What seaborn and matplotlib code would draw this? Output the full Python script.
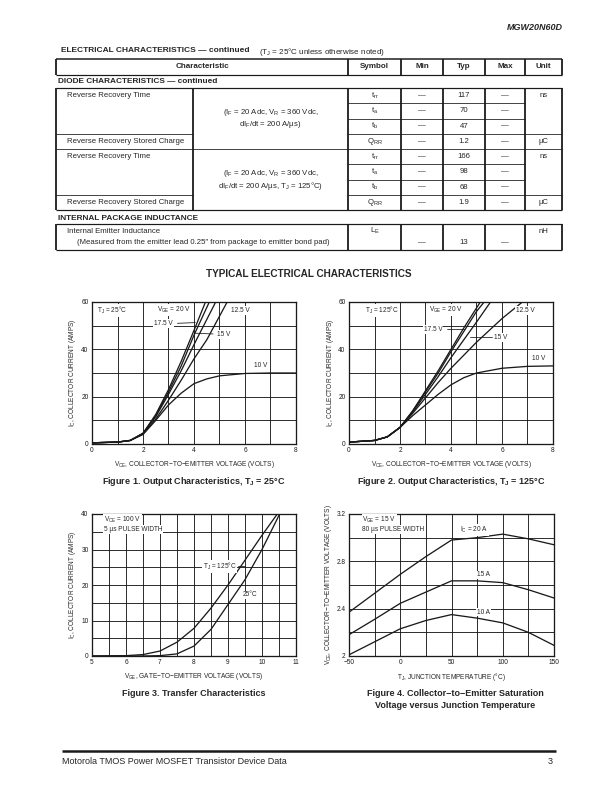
import pandas as pd
import matplotlib
matplotlib.use("Agg")
import matplotlib.pyplot as plt
from matplotlib.lines import Line2D
import seaborn as sns

# ---------------- table data ----------------
diode_char = ["Reverse Recovery Time", "", "", "Reverse Recovery Stored Charge",
              "Reverse Recovery Time", "", "", "Reverse Recovery Stored Charge"]
diode_symbol = [r"t$_{\rm rr}$", r"t$_{\rm a}$", r"t$_{\rm b}$", r"Q$_{\rm RR}$",
                r"t$_{\rm rr}$", r"t$_{\rm a}$", r"t$_{\rm b}$", r"Q$_{\rm RR}$"]
diode_min = ["—"] * 8
diode_typ = ["117", "70", "47", "1.2", "166", "98", "68", "1.9"]
diode_max = ["—"] * 8
diode_unit = ["ns", "", "", "µC", "ns", "", "", "µC"]
diode_cond1 = [r"(I$_{\rm F}$ = 20 Adc, V$_{\rm R}$ = 360 Vdc,", r"dI$_{\rm F}$/dt = 200 A/µs)"]
diode_cond2 = [r"(I$_{\rm F}$ = 20 Adc, V$_{\rm R}$ = 360 Vdc,", r"dI$_{\rm F}$/dt = 200 A/µs, T$_{\rm J}$ = 125°C)"]
header_cols = ["Characteristic", "Symbol", "Min", "Typ", "Max", "Unit"]

# ---------------- Figure 1: output characteristics, TJ = 25 C ----------------
f1_vce_20 = [0, 1, 1.5, 2, 2.5, 3, 3.5, 4, 4.45]
f1_ic_20 = [0.5, 0.8, 1.5, 4.5, 12.5, 23, 35, 48, 60]
f1_vce_175 = [0, 1, 1.5, 2, 2.5, 3, 3.5, 4, 4.6]
f1_ic_175 = [0.5, 0.8, 1.5, 4.5, 12, 22, 33, 46, 60]
f1_vce_15 = [0, 1, 1.5, 2, 2.5, 3, 3.5, 4, 4.85]
f1_ic_15 = [0.5, 0.8, 1.5, 4.5, 11.5, 21, 31, 42, 60]
f1_vce_125 = [0, 1, 1.5, 2, 2.5, 3, 3.5, 4, 4.5, 5.3]
f1_ic_125 = [0.5, 0.8, 1.5, 4.3, 10.5, 18.5, 27, 36, 44, 60]
f1_vce_10 = [0, 1, 1.5, 2, 2.5, 3, 3.5, 4, 4.5, 5, 6, 7, 8]
f1_ic_10 = [0.5, 0.8, 1.5, 4, 10, 16.5, 21.5, 25.5, 27.5, 28.8, 29.8, 30, 30]

# ---------------- Figure 2: output characteristics, TJ = 125 C ----------------
f2_vce_20 = [0, 1, 1.5, 2, 2.5, 3, 3.5, 4, 4.5, 5.15]
f2_ic_20 = [0.8, 1.5, 3, 7, 14, 22.5, 31, 40, 49, 60]
f2_vce_175 = [0, 1, 1.5, 2, 2.5, 3, 3.5, 4, 4.5, 5, 5.3]
f2_ic_175 = [0.8, 1.5, 3, 7, 14, 22, 30, 39, 47.5, 56, 60]
f2_vce_15 = [0, 1, 1.5, 2, 2.5, 3, 3.5, 4, 4.5, 5, 5.55]
f2_ic_15 = [0.8, 1.5, 3, 7, 13.5, 21, 28.5, 36.5, 44, 51.5, 60]
f2_vce_125 = [0, 1, 1.5, 2, 2.5, 3, 3.5, 4, 5, 6, 6.8]
f2_ic_125 = [0.8, 1.5, 3, 7, 13, 19.5, 26, 32, 43, 53, 60]
f2_vce_10 = [0, 1, 1.5, 2, 2.5, 3, 3.5, 4, 4.5, 5, 6, 7, 8]
f2_ic_10 = [0.8, 1.5, 3, 7, 12, 16.5, 21, 25, 28, 30, 32, 32.8, 33]

# ---------------- Figure 3: transfer characteristics ----------------
f3_vge_125 = [5, 6, 6.5, 7, 7.5, 8, 8.5, 9, 9.5, 10, 10.45]
f3_ic_125 = [0, 0.1, 0.4, 1.4, 3.9, 7.8, 13.5, 20, 27, 34, 40]
f3_vge_25 = [5, 6.5, 7, 7.5, 8, 8.5, 9, 9.5, 10, 10.52]
f3_ic_25 = [0, 0, 0.1, 0.6, 2.8, 7.5, 14.5, 21.5, 30, 40]

# ---------------- Figure 4: VCE(sat) vs junction temperature ----------------
f4_tj = [-50, -25, 0, 25, 50, 75, 100, 125, 150]
f4_vce_20 = [2.37, 2.53, 2.69, 2.84, 2.98, 3.0, 3.03, 2.99, 2.94]
f4_vce_15 = [2.18, 2.31, 2.445, 2.54, 2.635, 2.635, 2.62, 2.56, 2.49]
f4_vce_10 = [2.01, 2.12, 2.23, 2.3, 2.35, 2.32, 2.28, 2.2, 2.09]

sns.set_theme(style="white")
plt.rcParams["font.family"] = ["Liberation Sans", "DejaVu Sans"]
plt.rcParams["mathtext.fontset"] = "custom"
plt.rcParams["mathtext.rm"] = "Liberation Sans"
plt.rcParams["mathtext.it"] = "Liberation Sans:italic"
plt.rcParams["mathtext.bf"] = "Liberation Sans:bold"

W, H = 612, 792
fig = plt.figure(figsize=(W / 72, H / 72), dpi=72)

FS_TAB = 7.8   # table body text
FS_CH = 6.5    # chart text


def fx(x):
    return x / W


def fy(y):
    return 1 - y / H


def hline(x0, x1, y, lw=0.8):
    fig.add_artist(Line2D([fx(x0), fx(x1)], [fy(y), fy(y)], transform=fig.transFigure,
                          color="k", lw=lw, solid_capstyle="butt"))


def vline(x, y0, y1, lw=1.8):
    fig.add_artist(Line2D([fx(x), fx(x)], [fy(y0), fy(y1)], transform=fig.transFigure,
                          color="k", lw=lw, solid_capstyle="butt"))


def txt(x, y, s, size=FS_TAB, ha="left", **kw):
    fig.text(fx(x), fy(y), s, size=size, ha=ha, va="center", **kw)


# ---------------- page header ----------------
txt(563, 28, "MGW20N60D", size=9, ha="right", weight="bold", style="italic")
txt(61, 51, "ELECTRICAL CHARACTERISTICS — continued", size=8.4, weight="bold")
txt(259, 51.5, r"(T$_{\rm J}$ = 25°C unless otherwise noted)", size=8)

# ---------------- table ----------------
cols = [56, 193, 348, 401, 443, 485, 525, 562]
centers = [(cols[0] + cols[2]) / 2] + [(cols[i] + cols[i + 1]) / 2 for i in range(2, 7)]
hdr_top, hdr_bot = 59, 75
hline(cols[0], cols[-1], hdr_top, 1.5)
hline(cols[0], cols[-1], hdr_bot, 1.2)
for c in [cols[0]] + cols[2:]:
    vline(c, hdr_top, hdr_bot)
for cx, name in zip(centers, header_cols):
    txt(cx, 67, name, size=8, ha="center", weight="bold")

txt(58, 81.5, "DIODE CHARACTERISTICS — continued", size=8.2, weight="bold")

top = 88
rh = 15.25
nrows = len(diode_typ)
bot = top + rh * nrows
hline(cols[0], cols[-1], top, 1.2)
hline(cols[0], cols[-1], bot, 1.2)
hline(cols[0], cols[-1], top + rh * 4, 0.8)
for c in cols:
    vline(c, top, bot)
for k in (3, 7):
    y = top + rh * k
    hline(cols[0], cols[1], y)
    hline(cols[2], cols[-1], y)
for k in (1, 2, 5, 6):
    hline(cols[2], cols[6], top + rh * k)

for i in range(nrows):
    yc = top + rh * (i + 0.5)
    if diode_char[i]:
        txt(67, yc, diode_char[i])
    txt(centers[1], yc, diode_symbol[i], ha="center")
    txt(centers[2], yc, diode_min[i], ha="center")
    txt(centers[3], yc, diode_typ[i], ha="center")
    txt(centers[4], yc, diode_max[i], ha="center")
    if diode_unit[i]:
        txt(centers[5], yc, diode_unit[i], ha="center")

ccx = (cols[1] + cols[2]) / 2
for blk, cond in enumerate([diode_cond1, diode_cond2]):
    yc = top + rh * (4 * blk + 2)
    txt(ccx, yc - 6, cond[0], ha="center")
    txt(ccx, yc + 6, cond[1], ha="center")

txt(58, 218, "INTERNAL PACKAGE INDUCTANCE", size=8.2, weight="bold")
le_top, le_bot = 224, 250
hline(cols[0], cols[-1], le_top, 1.2)
hline(cols[0], cols[-1], le_bot, 1.2)
for c in [cols[0]] + cols[2:]:
    vline(c, le_top, le_bot)
txt(67, 231, "Internal Emitter Inductance")
txt(77, 242.5, "(Measured from the emitter lead 0.25″ from package to emitter bond pad)")
txt(centers[1], 231, r"L$_{\rm E}$", ha="center")
txt(centers[2], 242.5, "—", ha="center")
txt(centers[3], 242.5, "13", ha="center")
txt(centers[4], 242.5, "—", ha="center")
txt(centers[5], 231, "nH", ha="center")

txt(309, 274, "TYPICAL ELECTRICAL CHARACTERISTICS", size=10, ha="center", weight="bold")


# ---------------- charts ----------------
def make_ax(x0, x1, y0, y1):
    return fig.add_axes([fx(x0), fy(y1), (x1 - x0) / W, (y1 - y0) / H])


def long_df(curves, xname, yname, hname):
    parts = [pd.DataFrame({xname: xs, yname: ys, hname: lab}) for lab, xs, ys in curves]
    return pd.concat(parts, ignore_index=True)


def style_ax(ax, xlim, ylim, xmaj, xmin, ymaj, ymin, xlabs=None, ylabs=None):
    ax.set_xlim(*xlim)
    ax.set_ylim(*ylim)
    ax.set_xticks(xmaj)
    ax.set_xticks(xmin, minor=True)
    ax.set_yticks(ymaj)
    ax.set_yticks(ymin, minor=True)
    if xlabs is not None:
        ax.set_xticklabels(xlabs)
    if ylabs is not None:
        ax.set_yticklabels(ylabs)
    ax.grid(True, which="both", color="k", lw=0.9)
    ax.tick_params(which="both", length=0, labelsize=FS_CH, pad=3.5, colors="k")
    for s in ax.spines.values():
        s.set_color("k")
        s.set_linewidth(1.3)
    ax.set_xlabel("")
    ax.set_ylabel("")


def lbl(ax, x, y, s, ha="center", box=True):
    kw = dict(size=FS_CH, ha=ha, va="center", zorder=5)
    if box:
        kw["bbox"] = dict(facecolor="white", edgecolor="none", pad=0.8)
    ax.text(x, y, s, **kw)


def leader(ax, xs, ys):
    ax.plot(xs, ys, color="k", lw=0.8, zorder=6)


ax_pos = {1: (92, 296, 302, 444), 2: (349, 553, 302, 444),
          3: (92, 296, 514, 656), 4: (349, 554, 514, 656)}

# Figure 1
ax1 = make_ax(*ax_pos[1])
df1 = long_df([("20 V", f1_vce_20, f1_ic_20), ("17.5 V", f1_vce_175, f1_ic_175),
               ("15 V", f1_vce_15, f1_ic_15), ("12.5 V", f1_vce_125, f1_ic_125),
               ("10 V", f1_vce_10, f1_ic_10)], "vce", "ic", "vge")
sns.lineplot(data=df1, x="vce", y="ic", hue="vge", palette=["k"] * 5, legend=False,
             estimator=None, sort=False, lw=1.3, ax=ax1)
style_ax(ax1, (0, 8), (0, 60), [0, 2, 4, 6, 8], range(0, 9), [0, 20, 40, 60], range(0, 61, 10))
lbl(ax1, 0.8, 56.5, r"T$_{\rm J}$ = 25°C")
lbl(ax1, 3.2, 56.5, r"V$_{\rm GE}$ = 20 V")
lbl(ax1, 2.8, 50.8, "17.5 V")
leader(ax1, [3.35, 4.05], [51.0, 51.3])
lbl(ax1, 5.15, 46.3, "15 V")
leader(ax1, [4.75, 4.05], [46.5, 46.8])
lbl(ax1, 5.8, 56.5, "12.5 V")
lbl(ax1, 6.6, 33, "10 V", box=False)
fig.text(fx(72), fy(373), r"I$_{\rm C}$, COLLECTOR CURRENT (AMPS)", size=FS_CH, rotation=90,
         ha="center", va="center")
txt(194, 464, r"V$_{\rm CE}$, COLLECTOR−TO−EMITTER VOLTAGE (VOLTS)", size=FS_CH, ha="center")
txt(194, 482, r"Figure 1. Output Characteristics, T$_{\bf J}$ = 25°C", size=9, ha="center",
    weight="bold")

# Figure 2
ax2 = make_ax(*ax_pos[2])
df2 = long_df([("20 V", f2_vce_20, f2_ic_20), ("17.5 V", f2_vce_175, f2_ic_175),
               ("15 V", f2_vce_15, f2_ic_15), ("12.5 V", f2_vce_125, f2_ic_125),
               ("10 V", f2_vce_10, f2_ic_10)], "vce", "ic", "vge")
sns.lineplot(data=df2, x="vce", y="ic", hue="vge", palette=["k"] * 5, legend=False,
             estimator=None, sort=False, lw=1.3, ax=ax2)
style_ax(ax2, (0, 8), (0, 60), [0, 2, 4, 6, 8], range(0, 9), [0, 20, 40, 60], range(0, 61, 10))
lbl(ax2, 1.3, 56.5, r"T$_{\rm J}$ = 125°C")
lbl(ax2, 3.8, 56.5, r"V$_{\rm GE}$ = 20 V")
lbl(ax2, 3.3, 48.4, "17.5 V")
leader(ax2, [3.85, 4.5], [48.4, 48.4])
lbl(ax2, 5.95, 45.0, "15 V")
leader(ax2, [5.6, 4.75], [45.2, 45.2])
lbl(ax2, 6.9, 56.5, "12.5 V")
lbl(ax2, 7.45, 36.2, "10 V")
fig.text(fx(330), fy(373), r"I$_{\rm C}$, COLLECTOR CURRENT (AMPS)", size=FS_CH, rotation=90,
         ha="center", va="center")
txt(451, 464, r"V$_{\rm CE}$, COLLECTOR−TO−EMITTER VOLTAGE (VOLTS)", size=FS_CH, ha="center")
txt(451, 482, r"Figure 2. Output Characteristics, T$_{\bf J}$ = 125°C", size=9, ha="center",
    weight="bold")

# Figure 3
ax3 = make_ax(*ax_pos[3])
df3 = long_df([("125", f3_vge_125, f3_ic_125), ("25", f3_vge_25, f3_ic_25)], "vge", "ic", "tj")
sns.lineplot(data=df3, x="vge", y="ic", hue="tj", palette=["k"] * 2, legend=False,
             estimator=None, sort=False, lw=1.3, ax=ax3)
style_ax(ax3, (5, 11), (0, 40), range(5, 12), [5 + 0.5 * i for i in range(13)],
         range(0, 41, 10), range(0, 41, 5))
lbl(ax3, 5.35, 38.3, r"V$_{\rm CE}$ = 100 V", ha="left")
lbl(ax3, 5.35, 35.6, "5 µs PULSE WIDTH", ha="left")
lbl(ax3, 8.75, 25.3, r"T$_{\rm J}$ = 125°C")
leader(ax3, [9.3, 9.5], [25.3, 25.3])
lbl(ax3, 9.65, 17.2, "25°C")
fig.text(fx(72), fy(585), r"I$_{\rm C}$, COLLECTOR CURRENT (AMPS)", size=FS_CH, rotation=90,
         ha="center", va="center")
txt(194, 677, r"V$_{\rm GE}$, GATE−TO−EMITTER VOLTAGE (VOLTS)", size=FS_CH, ha="center")
txt(194, 694, "Figure 3. Transfer Characteristics", size=9, ha="center", weight="bold")

# Figure 4
ax4 = make_ax(*ax_pos[4])
df4 = long_df([("20 A", f4_tj, f4_vce_20), ("15 A", f4_tj, f4_vce_15),
               ("10 A", f4_tj, f4_vce_10)], "tj", "vce", "ic")
sns.lineplot(data=df4, x="tj", y="vce", hue="ic", palette=["k"] * 3, legend=False,
             estimator=None, sort=False, lw=1.3, ax=ax4)
style_ax(ax4, (-50, 150), (2, 3.2), [-50, 0, 50, 100, 150], range(-50, 151, 25),
         [2, 2.4, 2.8, 3.2], [2 + 0.2 * i for i in range(7)],
         xlabs=["−50", "0", "50", "100", "150"], ylabs=["2", "2.4", "2.8", "3.2"])
lbl(ax4, -37, 3.15, r"V$_{\rm GE}$ = 15 V", ha="left")
lbl(ax4, -37, 3.07, "80 µs PULSE WIDTH", ha="left")
lbl(ax4, 72, 3.065, r"I$_{\rm C}$ = 20 A")
lbl(ax4, 81, 2.685, "15 A")
lbl(ax4, 81, 2.37, "10 A")
fig.text(fx(329), fy(585), r"V$_{\rm CE}$, COLLECTOR−TO−EMITTER VOLTAGE (VOLTS)", size=FS_CH,
         rotation=90, ha="center", va="center")
txt(451, 677, r"T$_{\rm J}$, JUNCTION TEMPERATURE (°C)", size=FS_CH, ha="center")
txt(455, 694, "Figure 4. Collector−to−Emitter Saturation", size=9, ha="center", weight="bold")
txt(455, 706, "Voltage versus Junction Temperature", size=9, ha="center", weight="bold")

# ---------------- footer ----------------
hline(62, 556, 751, 2.5)
txt(62, 761, "Motorola TMOS Power MOSFET Transistor Device Data", size=9)
txt(553, 761, "3", size=9, ha="right")

fig.savefig("out.png", dpi=72)
